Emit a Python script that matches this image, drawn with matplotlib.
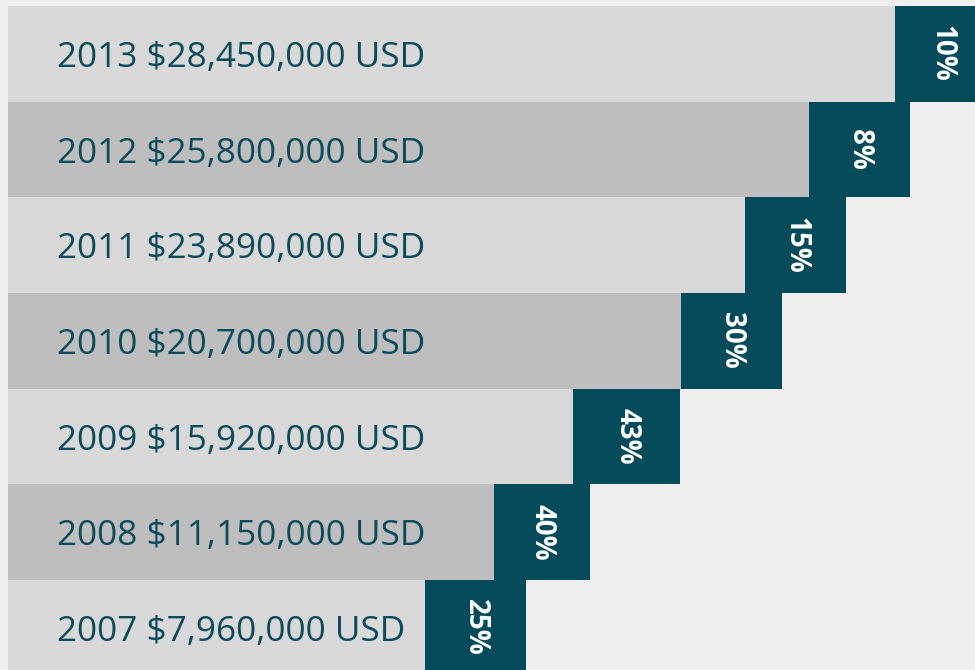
import matplotlib
matplotlib.use("Agg")
import matplotlib.pyplot as plt

years = ["2013", "2012", "2011", "2010", "2009", "2008", "2007"]
revenue = [28450000, 25800000, 23890000, 20700000, 15920000, 11150000, 7960000]
growth = ["10%", "8%", "15%", "30%", "43%", "40%", "25%"]
# visual bar extents (chart units)
bar_end = [887, 801, 737, 673, 565, 486, 417]
tag_end = [981, 902, 838, 774, 672, 582, 518]

light = "#d9d9d9"
dark = "#bebebe"
teal = "#034b5b"
textc = "#0b4b5b"

W, H = 975, 670
fig = plt.figure(figsize=(W / 100, H / 100), dpi=100)
fig.patch.set_facecolor("#efefef")
ax = fig.add_axes([8 / W, 0, 1 - 8 / W, (H - 6) / H])
ax.set_facecolor("none")
rowh = 95.67
ax.set_xlim(0, W - 8)
ax.set_ylim((H - 6) / rowh, 0)
ax.axis("off")

for i, (y, v, g, be, te) in enumerate(zip(years, revenue, growth, bar_end, tag_end)):
    col = light if i % 2 == 0 else dark
    ax.barh(i + 0.5, be, height=1.0, left=0, color=col, linewidth=0)
    ax.barh(i + 0.5, te - be, height=1.0, left=be, color=teal, linewidth=0)
    ax.text(49, i + 0.5, f"{y} ${v:,} USD", color=textc, fontsize=25.3,
            family=["Open Sans", "DejaVu Sans"], va="center_baseline", ha="left")
    ax.text((be + te) / 2, i + 0.5, g, color="white", fontsize=20,
            fontweight="bold", family=["Open Sans", "DejaVu Sans"],
            rotation=270, va="center", ha="center")

fig.savefig("out.png", dpi=100, facecolor=fig.get_facecolor())
